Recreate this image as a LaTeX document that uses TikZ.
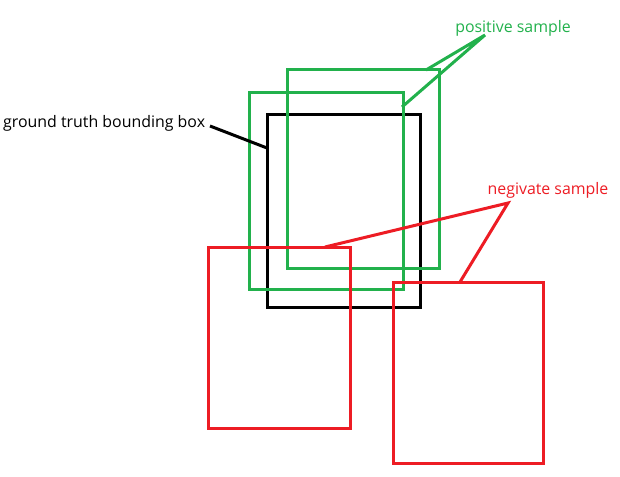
\documentclass[tikz,border=0pt]{standalone}
\usepackage{fontspec}
\setmainfont{Open Sans}
\definecolor{pgreen}{RGB}{34,177,76}
\definecolor{pred}{RGB}{237,28,36}
\begin{document}
\begin{tikzpicture}[x=1pt,y=-1pt,
  box/.style={line width=3pt},
  lbl/.style={font=\fontsize{15.9}{18}\selectfont, inner sep=0pt}]
\useasboundingbox (0,0) rectangle (620,476);
% boxes
\draw[box,black] (267,114) rectangle (420,307);
\draw[box,pgreen] (249,93) rectangle (403,289);
\draw[box,pgreen] (287,70) rectangle (439,268);
\draw[box,pred] (208,247) rectangle (350,428);
\draw[box,pred] (393,282) rectangle (543,463);
% labels
\node[lbl,text=pgreen] (pos) at (513,28) {positive sample};
\node[lbl,text=pred] (neg) at (548,190) {negivate sample};
\node[lbl,text=black,anchor=west] (gt) at (3,123) {ground truth bounding box};
% leader points
\coordinate (pa) at (485,35);
\coordinate (p1) at (426,70);
\coordinate (p2) at (402,107);
\coordinate (na) at (508,203);
\coordinate (n1) at (325,247);
\coordinate (n2) at (460,282);
\coordinate (ga) at (210,126);
\coordinate (g1) at (267,148);
\draw[pgreen,line width=3pt] (p1) -- (pa) -- (p2);
\draw[pred,line width=3pt] (n1) -- (na) -- (n2);
\draw[black,line width=3pt] (ga) -- (g1);
\end{tikzpicture}
\end{document}
